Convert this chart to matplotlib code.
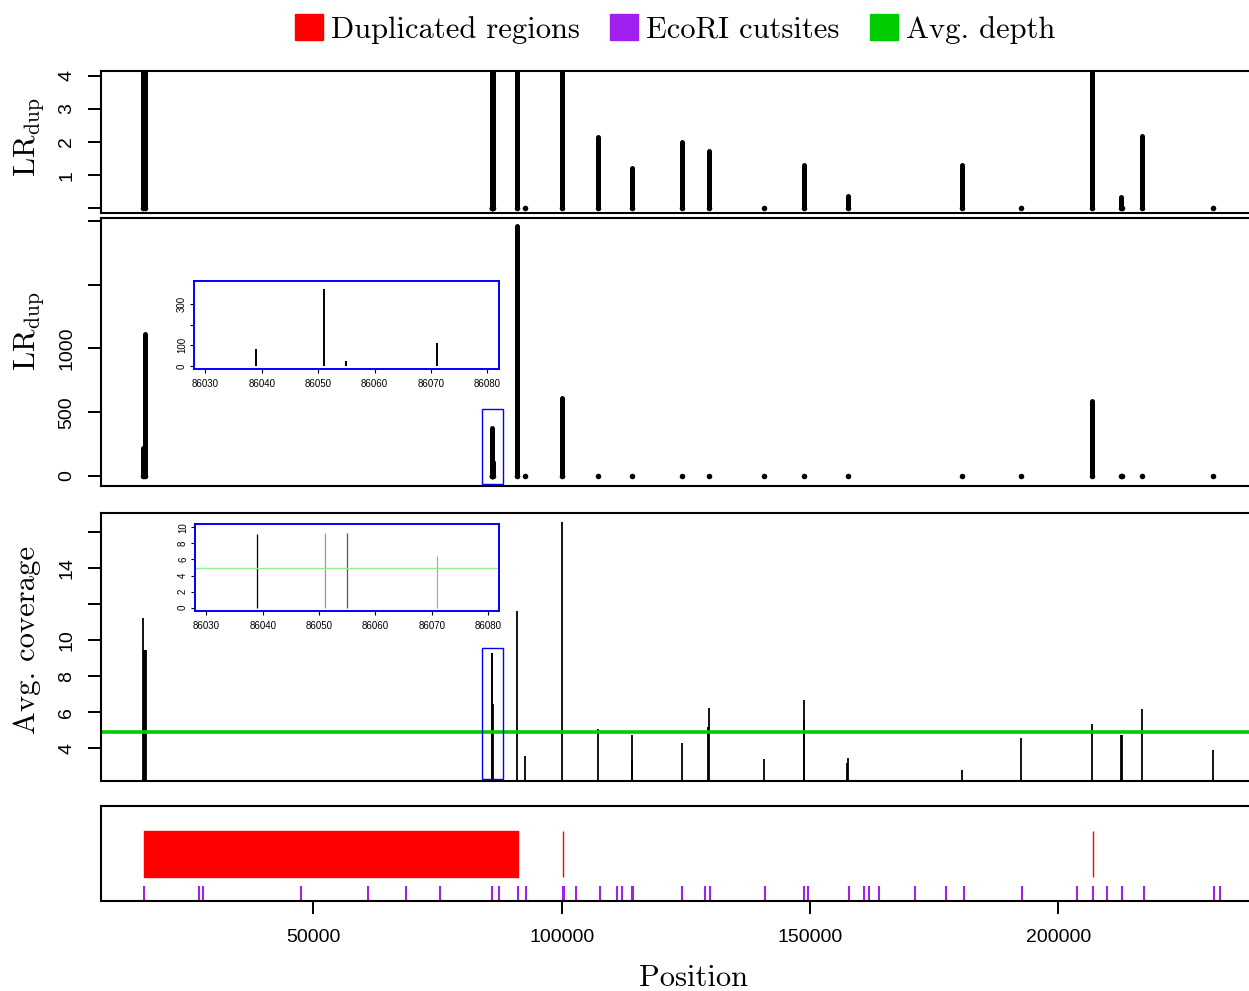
import numpy as np
import matplotlib
matplotlib.use("Agg")
import matplotlib.pyplot as plt
from matplotlib.patches import Patch, Rectangle

plt.rcParams["font.family"] = ["Liberation Sans", "DejaVu Sans"]
plt.rcParams["mathtext.fontset"] = "cm"

# likelihood ratio of duplication per position
lr_pos = [15700, 16100, 86039, 86051, 86055, 86071, 90900, 92570, 100050,
          107390, 114240, 124250, 129660, 140820, 148730, 157570, 180670,
          192410, 206750, 212700, 212900, 216910, 231250]
lr_val = [222, 1110, 82, 375, 25, 110, 1962, 0, 614,
          2.16, 1.21, 2.01, 1.74, 0, 1.31, 0.37, 1.30,
          0, 588, 0.35, 0, 2.17, 0]

# average coverage per position
cov_pos = [15700, 15950, 16100, 16250, 86039, 86051, 86055, 86071, 90900,
           92570, 100050, 107390, 114100, 114240, 124250, 129560, 129660,
           140820, 148730, 148830, 157470, 157570, 180670, 192410, 206750,
           212700, 212850, 216910, 231250]
cov_val = [11.2, 9.44, 9.44, 9.44, 9.2, 9.3, 9.3, 6.45, 11.58,
           3.57, 16.55, 5.05, 3.35, 4.72, 4.28, 5.16, 6.21,
           3.41, 5.57, 6.67, 3.17, 3.48, 2.78, 4.57, 5.36,
           4.75, 4.75, 6.18, 3.89]
avg_depth = 4.88

# zoomed window shown in the insets
zoom_lo, zoom_hi = 83970, 88200
inset_lo, inset_hi = 86028, 86082

# duplicated regions and EcoRI sites
dup_start = [15908, 100180, 206910]
dup_end = [91220, 100260, 206990]
ecori = [15900, 27000, 27700, 47500, 61000, 68700, 75450, 86000, 87400,
         91100, 92900, 100200, 100400, 102850, 107750, 111100, 112150,
         114150, 114350, 124250, 128900, 129800, 141000, 148850, 149600,
         157900, 160950, 161850, 164000, 171150, 177350, 180950, 192750,
         203800, 206950, 209850, 212900, 217300, 231400, 232650]

W, H = 1249, 991
fig = plt.figure(figsize=(W / 100, H / 100), dpi=100)


def px_axes(left, top, right, bottom):
    return fig.add_axes([left / W, 1 - bottom / H, (right - left) / W, (bottom - top) / H])


XLIM = (7209, 241040)
SERIF = "cmr10"


def style_main(ax, yticks=None, ylabels=None):
    ax.set_xlim(*XLIM)
    ax.spines["right"].set_visible(False)
    for s in ("left", "top", "bottom"):
        ax.spines[s].set_linewidth(1.5)
    ax.tick_params(axis="both", direction="out", length=9.4, width=1.4,
                   labelsize=14, pad=9)
    ax.set_xticks([])
    if yticks is None:
        ax.set_yticks([])
    else:
        ax.set_yticks(yticks)
        ax.set_yticklabels(ylabels, rotation=90, va="center")


def draw_lr(ax):
    ax.vlines(lr_pos, 0, lr_val, colors="black", lw=3.6, capstyle="round")
    ax.scatter(lr_pos, np.zeros(len(lr_pos)), s=16, color="black", zorder=3, lw=0)


# panel 1: LR zoomed on 0-4
ax1 = px_axes(101, 70.7, 1262, 213.3)
draw_lr(ax1)
ax1.set_ylim(-0.15, 4.15)
style_main(ax1, [0, 1, 2, 3, 4], ["", "1", "2", "3", "4"])

# panel 2: LR full range
ax2 = px_axes(101, 218.3, 1262, 486)
draw_lr(ax2)
ax2.set_ylim(-78, 2020)
style_main(ax2, [0, 500, 1000, 1500, 2000], ["0", "500", "1000", "", ""])
ax2.add_patch(Rectangle((zoom_lo, -60), zoom_hi - zoom_lo, 583, fill=False,
                        edgecolor="blue", lw=1.0, zorder=4))

# panel 3: coverage
ax3 = px_axes(101, 512.7, 1262, 781)
ax3.vlines(cov_pos, 0, cov_val, colors="black", lw=1.3)
ax3.axhline(avg_depth, color="#00CD00", lw=2.6)
ax3.set_ylim(2.19, 17.05)
style_main(ax3, [4, 6, 8, 10, 12, 14, 16], ["4", "6", "8", "10", "", "14", ""])
ax3.add_patch(Rectangle((zoom_lo, 2.28), zoom_hi - zoom_lo, 7.26, fill=False,
                        edgecolor="blue", lw=1.0, zorder=4))

# panel 4: regions and cut sites
ax4 = px_axes(101, 805.7, 1262, 900.7)
ax4.broken_barh([(s, e - s) for s, e in zip(dup_start, dup_end)], (0.253, 0.484),
                facecolors="red", edgecolors="red", lw=1.0)
ax4.vlines(ecori, 0, 0.155, colors="#A020F0", lw=1.5)
ax4.set_ylim(0, 1)
style_main(ax4)
ax4.set_xticks([50000, 100000, 150000, 200000])
ax4.set_xticklabels(["50000", "100000", "150000", "200000"])
ax4.tick_params(axis="x", pad=11)


def style_inset(ax, yticks, ylabels):
    ax.set_xlim(inset_lo, inset_hi)
    for s in ax.spines.values():
        s.set_edgecolor("blue")
        s.set_linewidth(1.4)
    ax.set_facecolor("white")
    ax.set_xticks([86030, 86040, 86050, 86060, 86070, 86080])
    ax.set_yticks(yticks)
    ax.set_yticklabels(ylabels, rotation=90, va="center")
    ax.tick_params(axis="both", length=3, width=0.8, labelsize=7, pad=2)
    ax.tick_params(axis="x", pad=4)


# inset for LR
ins2 = px_axes(194, 281.3, 498.6, 369.3)
in_lr = [(p, v) for p, v in zip(lr_pos, lr_val) if inset_lo <= p <= inset_hi]
ins2.vlines([p for p, _ in in_lr], 0, [v for _, v in in_lr], colors="black", lw=1.4)
ins2.set_ylim(-17, 412)
style_inset(ins2, [0, 100, 200, 300], ["0", "100", "", "300"])

# inset for coverage
ins3 = px_axes(195, 524, 499.4, 611)
in_cov = [(p, v) for p, v in zip(cov_pos, cov_val) if inset_lo <= p <= inset_hi]
ins3.vlines([p for p, _ in in_cov], 0, [v for _, v in in_cov],
            colors=["black", "#999999", "#555555", "#aaaaaa"], lw=0.9)
ins3.axhline(avg_depth, color="#90EE90", lw=1.0)
ins3.set_ylim(-0.4, 10.4)
style_inset(ins3, [0, 2, 4, 6, 8, 10], ["0", "2", "4", "6", "8", "10"])

# axis labels
lab = r"$\mathrm{LR}_{\mathrm{dup}}$"
fig.text(29 / W, 1 - 137 / H, lab, rotation=90, ha="center", va="center", fontsize=22)
fig.text(29 / W, 1 - 331 / H, lab, rotation=90, ha="center", va="center", fontsize=22)
fig.text(27 / W, 1 - 640 / H, "Avg. coverage", rotation=90, ha="center", va="center",
         fontsize=22, family=SERIF)
fig.text(693 / W, 1 - 978 / H, "Position", ha="center", va="center",
         fontsize=22, family=SERIF)

handles = [Patch(color="red", label="Duplicated regions"),
           Patch(color="#A020F0", label="EcoRI cutsites"),
           Patch(color="#00CD00", label="Avg. depth")]
fig.legend(handles=handles, loc="center", bbox_to_anchor=(675 / W, 1 - 29 / H),
           ncol=3, frameon=False, prop={"family": SERIF, "size": 22},
           handlelength=0.92, handleheight=0.92, handletextpad=0.25,
           columnspacing=1.0, borderpad=0)

fig.savefig("out.png", dpi=100)
